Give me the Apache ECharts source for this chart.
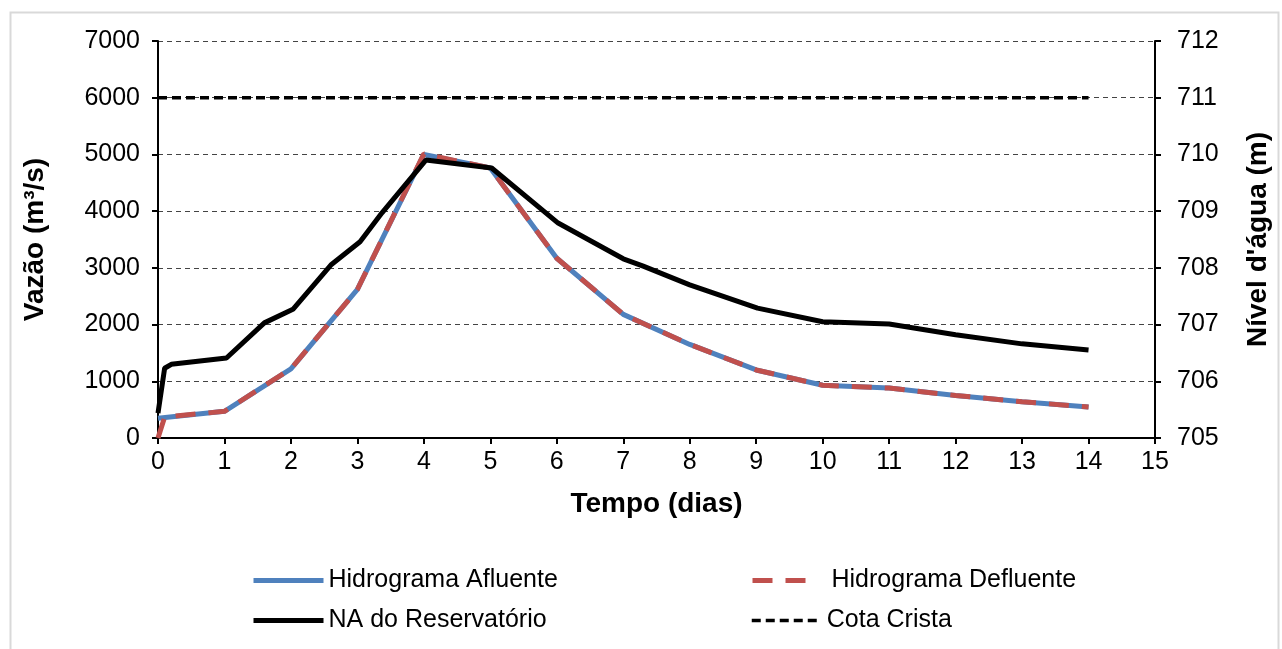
<!DOCTYPE html>
<html>
<head>
<meta charset="utf-8">
<script src="https://cdn.jsdelivr.net/npm/echarts@6/dist/echarts.min.js"></script>
<style>
html,body{margin:0;padding:0;background:#fff;}
#c{width:1282px;height:649px;}
</style>
</head>
<body>
<div id="c"></div>
<script>
// ---- data ----
var days = [0,1,2,3,4,5,6,7,8,9,10,11,12,13,14];
var afluente = [350,470,1220,2620,5000,4760,3170,2180,1650,1200,930,880,750,640,545];
var defluenteDays = [0,0.1,1,2,3,4,5,6,7,8,9,10,11,12,13,14];
var defluente = [0,370,470,1220,2620,5010,4760,3170,2180,1650,1200,930,880,750,640,545];
var naDays = [0,0.1,0.2,1.03,1.6,2.03,2.6,3.04,3.37,4.03,5.02,6.02,7,7.3,8,9.02,10,11,12,13,14];
var naLevel = [705.44,706.23,706.3,706.41,707.03,707.27,708.05,708.46,708.97,709.9,709.76,708.79,708.16,708.03,707.7,707.29,707.05,707.01,706.82,706.66,706.55];
var cotaDays = [0,14];
var cotaLevel = [711,711];

function pairs(xs, ys){ return xs.map(function(x,i){ return [x, ys[i]]; }); }
function plain(v){ return String(v); }

var font = 'Liberation Sans, Arial, sans-serif';
var FS = 25;
var chart = echarts.init(document.getElementById('c'));
function legendAt(left, top, name, lw, extra){
  var o = {
    left: left, top: top, orient: 'horizontal', itemWidth: 70, itemHeight: 14,
    textStyle: {fontFamily: font, fontSize: FS, color: '#000'},
    itemStyle: {color: 'rgba(0,0,0,0)', borderColor: 'rgba(0,0,0,0)', borderWidth: 0},
    lineStyle: {width: lw},
    selectedMode: false, data: [name]
  };
  return Object.assign(o, extra || {});
}
chart.setOption({
  animation: false,
  backgroundColor: '#fff',
  graphic: [{
    type: 'rect', left: 8, top: 10, silent: true,
    shape: {width: 1268, height: 700},
    style: {fill: 'none', stroke: '#d9d9d9', lineWidth: 2}
  }],
  grid: {left: 158, right: 127, top: 41, bottom: 211, containLabel: false},
  legend: [
    legendAt(246, 563, 'Hidrograma Afluente', 5),
    legendAt(745, 563, 'Hidrograma Defluente', 5, {itemWidth: 60,
      textStyle: {fontFamily: font, fontSize: FS, color: '#000', padding: [0,0,0,14]}}),
    legendAt(246, 603, 'NA do Reservatório', 5),
    legendAt(745, 603, 'Cota Crista', 3.5)
  ],
  xAxis: {
    type: 'value', min: 0, max: 15, interval: 1,
    name: 'Tempo (dias)', nameLocation: 'middle', nameGap: 52,
    nameTextStyle: {fontFamily: font, fontSize: 28, fontWeight: 'bold', color: '#000'},
    axisLine: {lineStyle: {color: '#000', width: 2}},
    axisTick: {show: true, length: 6, lineStyle: {color: '#000', width: 2}},
    axisLabel: {fontFamily: font, fontSize: FS, color: '#000', margin: 12, formatter: plain},
    splitLine: {show: false}
  },
  yAxis: [{
    type: 'value', min: 0, max: 7000, interval: 1000,
    name: 'Vazão (m³/s)', nameLocation: 'middle', nameGap: 109, nameRotate: 90,
    nameTextStyle: {fontFamily: font, fontSize: 28, fontWeight: 'bold', color: '#000'},
    axisLine: {show: true, lineStyle: {color: '#000', width: 2}},
    axisTick: {show: true, length: 6, lineStyle: {color: '#000', width: 2}},
    axisLabel: {fontFamily: font, fontSize: FS, color: '#000', margin: 18, formatter: plain},
    splitLine: {show: true, lineStyle: {color: '#444', width: 1, type: [5,4]}}
  }, {
    type: 'value', min: 705, max: 712, interval: 1, position: 'right',
    name: "Nível d'água (m)", nameLocation: 'middle', nameGap: 89, nameRotate: 90,
    nameTextStyle: {fontFamily: font, fontSize: 28, fontWeight: 'bold', color: '#000'},
    axisLine: {show: true, lineStyle: {color: '#000', width: 2}},
    axisTick: {show: true, length: 6, lineStyle: {color: '#000', width: 2}},
    axisLabel: {fontFamily: font, fontSize: FS, color: '#000', margin: 22, formatter: plain},
    splitLine: {show: false}
  }],
  series: [{
    name: 'Hidrograma Afluente', type: 'line', yAxisIndex: 0, symbol: 'none',
    data: pairs(days, afluente),
    lineStyle: {color: '#4f81bd', width: 5}, itemStyle: {color: '#4f81bd'}
  }, {
    name: 'Hidrograma Defluente', type: 'line', yAxisIndex: 0, symbol: 'none',
    data: pairs(defluenteDays, defluente),
    lineStyle: {color: '#c0504d', width: 5, type: [20,13]}, itemStyle: {color: '#c0504d'}
  }, {
    name: 'NA do Reservatório', type: 'line', yAxisIndex: 1, symbol: 'none',
    data: pairs(naDays, naLevel),
    lineStyle: {color: '#000', width: 5}, itemStyle: {color: '#000'}
  }, {
    name: 'Cota Crista', type: 'line', yAxisIndex: 1, symbol: 'none',
    data: pairs(cotaDays, cotaLevel),
    lineStyle: {color: '#000', width: 3.5, type: [9,5]}, itemStyle: {color: '#000'}
  }]
});
</script>
</body>
</html>
